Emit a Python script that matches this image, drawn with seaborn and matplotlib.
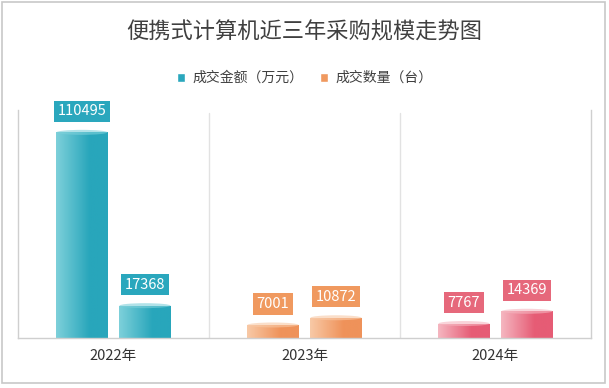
import numpy as np
import pandas as pd
import seaborn as sns
import matplotlib.pyplot as plt
from matplotlib.colors import LinearSegmentedColormap
from matplotlib.patches import Ellipse, Rectangle, Patch

years = ['2022年', '2023年', '2024年']
amount = [110495, 7001, 7767]      # 成交金额（万元）
count = [17368, 10872, 14369]      # 成交数量（台）
series = ['成交金额（万元）', '成交数量（台）']

# per-year colours: light edge, dark body, label box
year_colors = [('#7dd0da', '#28a6bb', '#2aa7bd'),
               ('#f8c9a6', '#ef925a', '#f0995f'),
               ('#f5b6c0', '#e65c75', '#e6687b')]

df = pd.DataFrame({
    'year': years * 2,
    'series': [series[0]] * 3 + [series[1]] * 3,
    'value': amount + count,
})

sns.set_style('white')
plt.rcParams['font.family'] = ['Noto Sans CJK SC', 'DejaVu Sans']

fig = plt.figure(figsize=(6.09, 3.88), dpi=100)
ax = fig.add_axes([18 / 609, 1 - 338 / 388, 573 / 609, 228 / 388])

sns.barplot(data=df, x='year', y='value', hue='series', palette=['#28a6bb', '#ef925a'],
            width=0.66, gap=0.19, legend=False, ax=ax)

ymax = 122500
eh = 5 / 228 * ymax
for cont in ax.containers:
    for i, bar in enumerate(cont):
        light, dark, box = year_colors[i]
        cmap = LinearSegmentedColormap.from_list('c', [(0, light), (0.65, dark), (1, dark)])
        x0, w, h = bar.get_x(), bar.get_width(), bar.get_height()
        bar.set_facecolor(dark)
        bar.set_edgecolor('none')
        grad = np.linspace(0, 1, 64).reshape(1, -1)
        im = ax.imshow(grad, cmap=cmap, extent=[x0, x0 + w, 0, h], aspect='auto',
                       zorder=2, origin='lower')
        im.set_clip_path(bar)
        ax.add_patch(Ellipse((x0 + w / 2, h), w, eh, facecolor=light, edgecolor='none',
                             alpha=0.6, zorder=3))
        ax.text(x0 + w / 2, h + 14 / 228 * ymax, f'{int(h)}', ha='center', va='bottom',
                fontsize=10.5, color='white', zorder=5, clip_on=False,
                bbox=dict(boxstyle='square,pad=0.25', facecolor=box, edgecolor='none'))

ax.set_xlim(-0.5, 2.5)
ax.set_ylim(0, ymax)
ax.set_yticks([])
ax.set_xlabel('')
ax.set_ylabel('')
ax.tick_params(axis='x', length=0, labelsize=10.5, labelcolor='#333333', pad=8)
for s in ['left', 'right', 'bottom']:
    ax.spines[s].set_color('#cfcfcf')
    ax.spines[s].set_linewidth(1)
ax.spines['top'].set_visible(False)
for xv in [0.5, 1.5]:
    ax.axvline(xv, ymax=0.985, color='#e2e2e2', lw=1, zorder=0)

fig.text(0.5, 1 - 32 / 388, '便携式计算机近三年采购规模走势图', ha='center', va='center',
         fontsize=16, color='#404040')
handles = [Patch(facecolor='#2aa7bd'), Patch(facecolor='#f0995f')]
fig.legend(handles, series, loc='center', bbox_to_anchor=(0.5, 1 - 78 / 388), ncol=2,
           frameon=False, fontsize=10, handlelength=0.6, handleheight=0.6,
           handletextpad=0.5, columnspacing=1.2, labelcolor='#404040')
fig.patches.append(Rectangle((2 / 609, 5 / 388), 603 / 609, 381 / 388, transform=fig.transFigure,
                             fill=False, edgecolor='#c8c8c8', lw=1.2))

fig.savefig('out.png', dpi=100)
